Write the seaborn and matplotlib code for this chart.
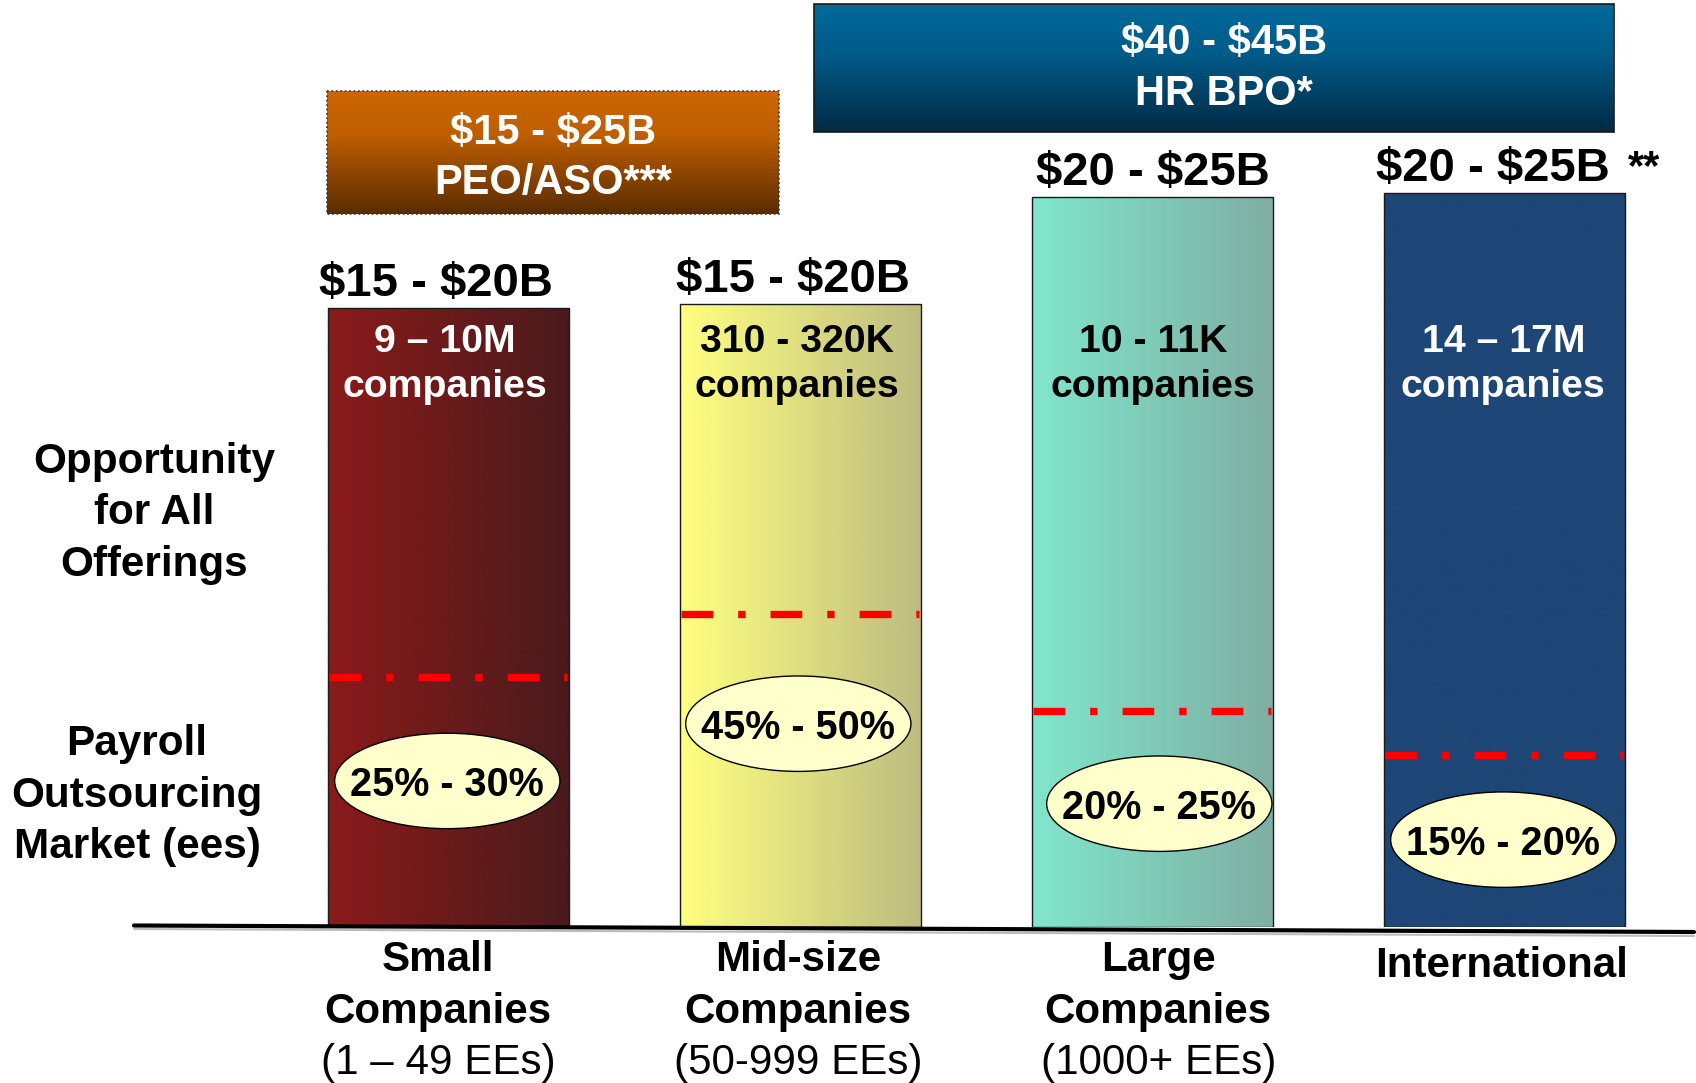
import numpy as np
import matplotlib
matplotlib.use("Agg")
import matplotlib.pyplot as plt
from matplotlib.patches import Ellipse, Rectangle
from matplotlib.colors import to_rgb
import seaborn as sns

sns.set_theme(style="white")
plt.rcParams["font.family"] = ["Liberation Sans", "DejaVu Sans"]
plt.rcParams["text.color"] = "black"
plt.rcParams["text.parse_math"] = False   # keep the $ signs literal

# ---------------- data ----------------
segments = ["Small", "Mid-size", "Large", "International"]
segment_titles = [["Small", "Companies"], ["Mid-size", "Companies"],
                  ["Large", "Companies"], ["International"]]
segment_ranges = ["(1 – 49 EEs)", "(50-999 EEs)", "(1000+ EEs)", ""]
opportunity = ["$15 - $20B", "$15 - $20B", "$20 - $25B", "$20 - $25B"]
footnotes = ["", "", "", "**"]
company_counts = ["9 – 10M", "310 - 320K", "10 - 11K", "14 – 17M"]
bar_heights = [84.3, 84.9, 99.5, 100.0]      # relative size, tallest bar = 100
payroll_levels = [34.1, 42.6, 29.4, 23.4]    # payroll outsourcing part of bar
payroll_share = ["25% - 30%", "45% - 50%", "20% - 25%", "15% - 20%"]
umbrella_values = ["$15 - $25B", "$40 - $45B"]
umbrella_names = ["PEO/ASO***", "HR BPO*"]
row_labels = [["Opportunity", "for All", "Offerings"],
              ["Payroll", "Outsourcing", "Market (ees)"]]

# ---------------- styles / nudges ----------------
bar_left = ["#8B1A1A", "#FFFF80", "#80E6CC", "#1E4676"]
bar_right = ["#4A1A1C", "#BDBC80", "#7FAEA3", "#1E4676"]
count_colors = ["white", "black", "black", "white"]
badge_drop = [14.2, 14.9, 12.6, 11.5]
title_dx = [-12, -7, 1, -11]
count_dx = [-3, -3, 1, -1]
badge_dx = [-1, -2, 7, -1]
name_dx = [-10, -2, 6, -3]

W, H = 1696, 1083
fig = plt.figure(figsize=(W / 100, H / 100), dpi=100)

# bars axes: baseline sits at pixel row 927, one category = 352 px
ax = fig.add_axes([272.3 / W, (H - 927) / H, 1408 / W, 927 / H])
sns.barplot(x=segments, y=bar_heights, hue=segments, palette=bar_left,
            legend=False, width=0.686, errorbar=None,
            edgecolor="#1a1a1a", linewidth=1.0, ax=ax)

bars = list(ax.patches)
for i, p in enumerate(bars):
    x0, w, h = p.get_x(), p.get_width(), p.get_height()
    c0 = np.array(to_rgb(bar_left[i]))
    c1 = np.array(to_rgb(bar_right[i]))
    t = np.linspace(0, 1, 256)[None, :, None]
    img = c0 + (c1 - c0) * t
    im = ax.imshow(img, extent=[x0, x0 + w, 0, h], aspect="auto",
                   zorder=1, interpolation="bilinear")
    im.set_clip_path(p)
    p.set_facecolor("none")
    p.set_zorder(2)

    # payroll outsourcing split
    ax.plot([x0 + 0.005, x0 + w - 0.005], [payroll_levels[i]] * 2,
            color="#FF0000", lw=5.3, dashes=(4.3, 3.4, 1.0, 3.4),
            dash_capstyle="butt", zorder=3)

    cy = payroll_levels[i] - badge_drop[i]
    cx = i + badge_dx[i] / 352
    ax.add_patch(Ellipse((cx, cy), 0.64, 13.0, facecolor="#FFFFCC",
                         edgecolor="black", lw=1.0, zorder=4))
    ax.text(cx, cy, payroll_share[i], ha="center", va="center_baseline",
            fontsize=28.5, fontweight="bold", color="black", zorder=5)

    # total opportunity on top
    ax.annotate(opportunity[i], xy=(i, h), xytext=(title_dx[i], 12),
                textcoords="offset pixels", ha="center", va="baseline",
                fontsize=34, fontweight="bold", annotation_clip=False)
    if footnotes[i]:
        ax.annotate(footnotes[i], xy=(i, h), xytext=(title_dx[i] + 135, 14),
                    textcoords="offset pixels", ha="left", va="baseline",
                    fontsize=30, fontweight="bold", annotation_clip=False)

    # number of companies
    for txt, yy in [(company_counts[i], 78.3), ("companies", 72.2)]:
        ax.annotate(txt, xy=(i, yy), xytext=(count_dx[i], 0),
                    textcoords="offset pixels", ha="center", va="baseline",
                    fontsize=28.3, fontweight="bold", color=count_colors[i],
                    zorder=5)

    # segment names under the axis
    lines = segment_titles[i]
    base = -44 if len(lines) > 1 else -50
    for k, line in enumerate(lines):
        ax.annotate(line, xy=(i, 0), xytext=(name_dx[i], base - 51.5 * k),
                    textcoords="offset pixels", ha="center", va="baseline",
                    fontsize=30.3, fontweight="bold", annotation_clip=False)
    if segment_ranges[i]:
        ax.annotate(segment_ranges[i], xy=(i, 0),
                    xytext=(name_dx[i], base - 103),
                    textcoords="offset pixels", ha="center", va="baseline",
                    fontsize=30.3, annotation_clip=False)

ax.set_xlim(-0.5, 3.5)
ax.set_ylim(0, 126.3)
ax.axis("off")

# ---------------- decorations in pixel space ----------------
deco = fig.add_axes([0, 0, 1, 1])
deco.set_xlim(0, W)
deco.set_ylim(H, 0)
deco.axis("off")
deco.set_zorder(5)


def gradient_box(x0, y0, x1, y1, colors, stops, ls, ec):
    t = np.linspace(0, 1, 256)
    rgb = np.array([to_rgb(c) for c in colors])
    img = np.stack([np.interp(t, stops, rgb[:, j]) for j in range(3)], axis=-1)
    deco.imshow(img[:, None, :], extent=[x0, x1, y1, y0], aspect="auto",
                origin="upper", interpolation="bilinear", zorder=1)
    deco.add_patch(Rectangle((x0, y0), x1 - x0, y1 - y0, fill=False,
                             edgecolor=ec, lw=1.2, ls=ls, zorder=2))


gradient_box(327, 91, 779, 214, ["#CC6600", "#BF5F00", "#5A2C00"],
             [0, 0.35, 1], ":", "#333333")
gradient_box(814, 4, 1614, 132, ["#006A9C", "#005A88", "#002A44"],
             [0, 0.4, 1], "-", "#1a1a1a")

box_text = [(553, 144, 194), (1224, 54, 105)]
for (cx, b1, b2), val, name in zip(box_text, umbrella_values, umbrella_names):
    deco.text(cx, b1, val, ha="center", va="baseline", color="white",
              fontsize=30, fontweight="bold", zorder=3)
    deco.text(cx, b2, name, ha="center", va="baseline", color="white",
              fontsize=30, fontweight="bold", zorder=3)

for (cx, b0), lines in zip([(154, 473), (137, 755)], row_labels):
    for k, line in enumerate(lines):
        deco.text(cx, b0 + 51.5 * k, line, ha="center", va="baseline",
                  fontsize=30.4, fontweight="bold")

# horizontal base line
deco.plot([134, 1694], [929, 936], color="#bbbbbb", lw=1.5, zorder=3)
deco.plot([134, 1694], [925.5, 932], color="black", lw=3, zorder=4)

fig.savefig("out.png", dpi=100)
